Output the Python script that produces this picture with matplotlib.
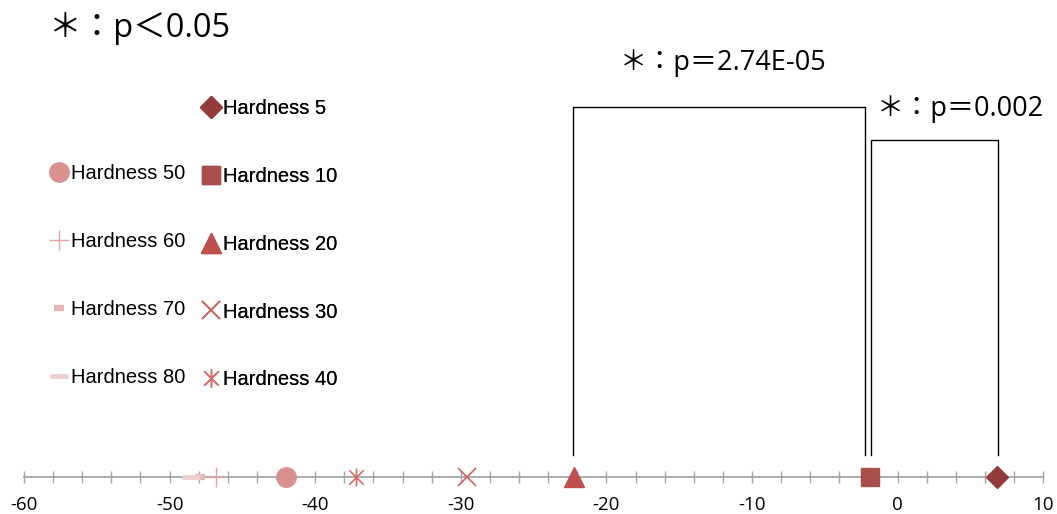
import numpy as np
import matplotlib.pyplot as plt
from matplotlib.path import Path

plt.rcParams['axes.unicode_minus'] = False

# Datos: posición de cada dureza sobre el eje
etiquetas = ['Hardness 5', 'Hardness 10', 'Hardness 20', 'Hardness 30', 'Hardness 40',
             'Hardness 50', 'Hardness 60', 'Hardness 70', 'Hardness 80']
valores = [6.8, -1.9, -22.2, -29.6, -37.2, -42.0, -46.8, -47.9, -48.5]
colores = ['#943C3A', '#A84F4B', '#C0504D', '#D0635E', '#D86E69',
           '#D99090', '#E3A3A3', '#E8B6B5', '#EFD0D0']

# Comparaciones significativas (indices de los grupos) y textos
comparaciones = [(2, 1), (1, 0)]
textos_p = ['＊：p＝2.74E-05', '＊：p＝0.002']
texto_general = '＊：p＜0.05'

xticks_mayores = [-60, -50, -40, -30, -20, -10, 0, 10]

# Marcador asterisco tipo Excel (X + linea vertical)
asterisco = Path([(0, -1), (0, 1), (-0.8, -0.8), (0.8, 0.8), (-0.8, 0.8), (0.8, -0.8)],
                 [Path.MOVETO, Path.LINETO, Path.MOVETO, Path.LINETO, Path.MOVETO, Path.LINETO])

estilos = [
    dict(marker='D', ms=11),
    dict(marker='s', ms=13),
    dict(marker='^', ms=14),
    dict(marker='x', ms=13, mew=1.2),
    dict(marker=asterisco, ms=13, mew=1.2),
    dict(marker='o', ms=14),
    dict(marker='+', ms=15, mew=1.0),
    dict(marker='_', ms=7, mew=4.5),
    dict(marker='_', ms=13, mew=3.5),
]

fuente_p = ['Open Sans', 'Noto Sans CJK JP']

fig = plt.figure(figsize=(10.57, 5.14), dpi=100)
ax = fig.add_axes([0, 0, 1, 1])

# Escala: y en "pixeles" sobre el eje
ax.set_xlim(-61.65, 10.95)
ax.set_ylim(-37, 477)

for s in ['top', 'right', 'left']:
    ax.spines[s].set_visible(False)
ax.spines['bottom'].set_position(('data', 0))
ax.spines['bottom'].set_bounds(-60, 10)
ax.spines['bottom'].set_color('#A6A6A6')
ax.spines['bottom'].set_linewidth(1.3)
ax.set_xticks(xticks_mayores)
ax.set_xticks(np.arange(-60, 11, 2), minor=True)
ax.tick_params(axis='x', which='both', direction='inout', length=9, width=1.0,
               color='#A6A6A6', labelsize=13.5, pad=9, labelcolor='black')
ax.set_yticks([])
for t in ax.get_xticklabels():
    t.set_family('Open Sans')

handles = []
for v, et, c, st in zip(valores, etiquetas, colores, estilos):
    h, = ax.plot([v], [0], linestyle='none', color=c, mec=c, label=et, zorder=5, **st)
    handles.append(h)

# Corchetes de significancia
alturas = [370, 337]
for (i, j), alt in zip(comparaciones, alturas):
    x1 = valores[i] - 0.1 if i != 1 else valores[i] + 0.1
    x2 = valores[j] + 0.1 if j != 1 else valores[j] - 0.35
    ax.plot([x1, x1, x2, x2], [22, alt, alt, 22], color='black', lw=1.0)

ax.text(-12.0, 414, textos_p[0], fontsize=19.5, family=fuente_p, ha='center', va='center')
ax.text(4.3, 368, textos_p[1], fontsize=19.5, family=fuente_p, ha='center', va='center')
fig.text(0.132, 0.944, texto_general, fontsize=23.5, family=fuente_p, ha='center', va='center')

# Leyenda en dos columnas
prop_leg = {'family': 'Liberation Sans', 'size': 14.5}
leg1 = fig.legend(handles=handles[:5], loc='upper left', bbox_to_anchor=(0.19, 0.808),
                  frameon=False, handlelength=1.0, handletextpad=0.1, labelspacing=2.43,
                  borderpad=0, borderaxespad=0, prop=prop_leg)
leg2 = fig.legend(handles=handles[5:], loc='upper left', bbox_to_anchor=(0.046, 0.681),
                  frameon=False, handlelength=1.0, handletextpad=0.1, labelspacing=2.43,
                  borderpad=0, borderaxespad=0, prop=prop_leg)
fig.add_artist(leg1)

fig.savefig('out.png', dpi=100)
